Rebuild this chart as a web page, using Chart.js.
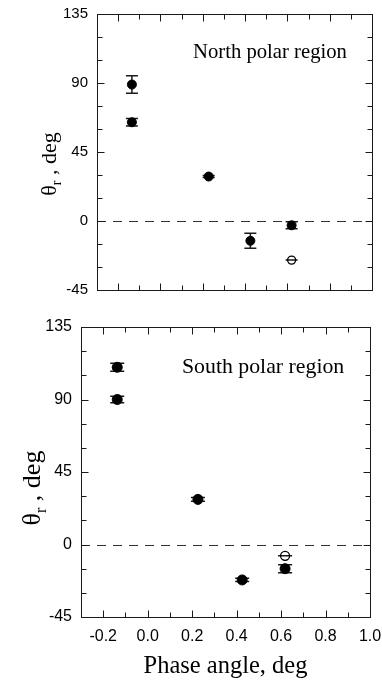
<!DOCTYPE html>
<html>
<head>
<meta charset="utf-8">
<script src="https://cdn.jsdelivr.net/npm/chart.js@4.4.0/dist/chart.umd.min.js"></script>
<style>
    html, body { margin: 0; padding: 0; background: #fff; }
    #wrap { position: relative; width: 382px; height: 681px; }
    canvas { position: absolute; left: 0; }
</style>
</head>
<body>
<div id="wrap">
    <canvas id="north" width="382" height="300" style="top:0"></canvas>
    <canvas id="south" width="382" height="381" style="top:300px"></canvas>
</div>
<script>
// North polar region: filled symbols, then the open one
const northPhase = [-0.135, -0.135, 0.228, 0.425, 0.62];
const northTheta = [89, 64.4, 29, -12.9, -2.8];
const northErr = [5.7, 2.4, 0.6, 4.9, 2.3];
const northOpenPhase = [0.62];
const northOpenTheta = [-25.5];
const northOpenErr = [0];

// South polar region
const southPhase = [-0.137, -0.137, 0.226, 0.425, 0.618];
const southTheta = [110, 90, 28, -22, -15];
const southErr = [2.5, 2, 1.2, 1, 2.5];
const southOpenPhase = [0.618];
const southOpenTheta = [-7];
const southOpenErr = [0];

const xTickValues = [-0.2, 0, 0.2, 0.4, 0.6, 0.8, 1.0];
const xTickLabels = ['-0.2', '0.0', '0.2', '0.4', '0.6', '0.8', '1.0'];
const yTickValues = [-45, 0, 45, 90, 135];
const yTickLabels = ['-45', '0', '45', '90', '135'];
const xRange = [-0.3, 1.0];
const yRange = [-45, 135];

const INK = '#1a1a1a';

function toPoints(xs, ys) {
    return xs.map((x, i) => ({ x, y: ys[i] }));
}

// dashed zero line, error bars, boxed frame with inward ticks, y title
const panelDecor = {
    id: 'panelDecor',
    beforeDatasetsDraw(chart) {
        const { ctx, chartArea: a, scales: { x, y } } = chart;
        ctx.save();
        ctx.strokeStyle = '#333';
        ctx.lineWidth = 1;
        ctx.setLineDash([9, 7]);
        const y0 = Math.round(y.getPixelForValue(0)) + 0.5;
        ctx.beginPath();
        ctx.moveTo(a.left, y0);
        ctx.lineTo(a.right, y0);
        ctx.stroke();
        ctx.setLineDash([]);

        ctx.strokeStyle = INK;
        ctx.lineWidth = 1.5;
        chart.data.datasets.forEach(ds => {
            if (!ds.errors) return;
            ds.data.forEach((p, i) => {
                const px = x.getPixelForValue(p.x);
                const hi = y.getPixelForValue(p.y + ds.errors[i]);
                const lo = y.getPixelForValue(p.y - ds.errors[i]);
                const cap = ds.capHalf || 6;
                ctx.beginPath();
                ctx.moveTo(px, hi); ctx.lineTo(px, lo);
                ctx.moveTo(px - cap, hi); ctx.lineTo(px + cap, hi);
                ctx.moveTo(px - cap, lo); ctx.lineTo(px + cap, lo);
                ctx.stroke();
            });
        });
        ctx.restore();
    },
    afterDraw(chart, args, o) {
        const { ctx, chartArea: a, scales: { x, y } } = chart;
        ctx.save();
        ctx.strokeStyle = INK;
        ctx.lineWidth = 1;
        const L = Math.round(a.left) + 0.5, R = Math.round(a.right) + 0.5;
        const T = Math.round(a.top) + 0.5, B = Math.round(a.bottom) + 0.5;
        ctx.strokeRect(L, T, R - L, B - T);

        ctx.beginPath();
        for (let v = yRange[0] + 15; v < yRange[1]; v += 15) {
            const py = Math.round(y.getPixelForValue(v)) + 0.5;
            const len = v % 45 === 0 ? 7 : 5;
            ctx.moveTo(L, py); ctx.lineTo(L + len, py);
            ctx.moveTo(R, py); ctx.lineTo(R - len, py);
        }
        for (let i = -2; i < 10; i++) {
            const px = Math.round(x.getPixelForValue(i / 10)) + 0.5;
            const len = i % 2 === 0 ? 7 : 5;
            ctx.moveTo(px, B); ctx.lineTo(px, B - len);
            ctx.moveTo(px, T); ctx.lineTo(px, T + len);
        }
        ctx.stroke();

        // θ_r , deg
        const big = o.titleSize;
        const small = Math.round(big * 0.62);
        const bigFont = big + 'px "Liberation Serif", serif';
        const smallFont = small + 'px "Liberation Serif", serif';
        ctx.font = bigFont;
        const w1 = ctx.measureText('θ').width;
        const w3 = ctx.measureText(' , deg').width;
        ctx.font = smallFont;
        const w2 = ctx.measureText('r').width;
        const total = w1 + w2 + w3;
        ctx.translate(o.titleX, o.titleY);
        ctx.rotate(-Math.PI / 2);
        ctx.fillStyle = '#000';
        ctx.textBaseline = 'alphabetic';
        ctx.textAlign = 'left';
        let cx = -total / 2;
        ctx.font = bigFont;
        ctx.fillText('θ', cx, 0);
        cx += w1;
        ctx.font = smallFont;
        ctx.fillText('r', cx, big * 0.22);
        cx += w2;
        ctx.font = bigFont;
        ctx.fillText(' , deg', cx, 0);
        ctx.restore();

        ctx.save();
        ctx.fillStyle = '#000';
        ctx.font = o.labelSize + 'px "Liberation Serif", serif';
        ctx.textBaseline = 'alphabetic';
        ctx.fillText(o.label, o.labelX, o.labelY);
        ctx.restore();
    },
};

function mkPanel(canvas, filled, open, opts) {
    const datasets = [
        {
            data: toPoints(filled.xs, filled.ys),
            errors: filled.err,
            backgroundColor: '#000',
            borderColor: '#000',
            borderWidth: 1,
            pointRadius: opts.radius,
            capHalf: opts.cap,
        },
        {
            data: toPoints(open.xs, open.ys),
            errors: open.err,
            backgroundColor: 'rgba(0,0,0,0)',
            borderColor: '#000',
            borderWidth: 1.3,
            pointRadius: opts.radius - 0.5,
            capHalf: opts.cap,
        },
    ];

    return new Chart(canvas, {
        type: 'scatter',
        data: { datasets },
        options: {
            responsive: false,
            animation: false,
            devicePixelRatio: 1,
            layout: { padding: opts.padding },
            plugins: {
                legend: { display: false },
                tooltip: { enabled: false },
                panelDecor: opts.decor,
            },
            scales: {
                x: {
                    type: 'linear',
                    min: xRange[0],
                    max: xRange[1],
                    grid: { display: false, drawTicks: false },
                    border: { display: false },
                    afterBuildTicks: axis => { axis.ticks = xTickValues.map(v => ({ value: v })); },
                    ticks: {
                        display: opts.xLabels,
                        padding: 10,
                        color: '#000',
                        font: { family: '"Liberation Sans", Arial, sans-serif', size: opts.tickSize },
                        callback: (v, i) => xTickLabels[i],
                    },
                    title: {
                        display: opts.xLabels,
                        text: 'Phase angle, deg',
                        color: '#000',
                        padding: { top: 0, bottom: 0 },
                        font: { family: '"Liberation Serif", serif', size: 24.5 },
                    },
                    afterFit: s => { s.height = opts.xHeight; s.paddingLeft = 0; s.paddingRight = 0; },
                },
                y: {
                    type: 'linear',
                    min: yRange[0],
                    max: yRange[1],
                    grid: { display: false, drawTicks: false },
                    border: { display: false },
                    afterBuildTicks: axis => { axis.ticks = yTickValues.map(v => ({ value: v })); },
                    ticks: {
                        padding: 9,
                        color: '#000',
                        font: { family: '"Liberation Sans", Arial, sans-serif', size: opts.tickSize },
                        callback: (v, i) => yTickLabels[i],
                    },
                    afterFit: s => { s.width = opts.yWidth; s.paddingTop = 0; s.paddingBottom = 0; },
                },
            },
        },
        plugins: [panelDecor],
    });
}

mkPanel(document.getElementById('north'),
    { xs: northPhase, ys: northTheta, err: northErr },
    { xs: northOpenPhase, ys: northOpenTheta, err: northOpenErr },
    {
        padding: { top: 14, right: 10, left: 0, bottom: 0 },
        yWidth: 97, xHeight: 10, xLabels: false, tickSize: 15,
        radius: 4.5, cap: 6,
        decor: { titleSize: 22, titleX: 56, titleY: 164, label: 'North polar region', labelSize: 20.7, labelX: 193, labelY: 58 },
    });

mkPanel(document.getElementById('south'),
    { xs: southPhase, ys: southTheta, err: southErr },
    { xs: southOpenPhase, ys: southOpenTheta, err: southOpenErr },
    {
        padding: { top: 27, right: 12, left: 0, bottom: 0 },
        yWidth: 81, xHeight: 64, xLabels: true, tickSize: 16,
        radius: 5, cap: 7,
        decor: { titleSize: 26, titleX: 40, titleY: 188, label: 'South polar region', labelSize: 21.8, labelX: 182, labelY: 73 },
    });
</script>
</body>
</html>
